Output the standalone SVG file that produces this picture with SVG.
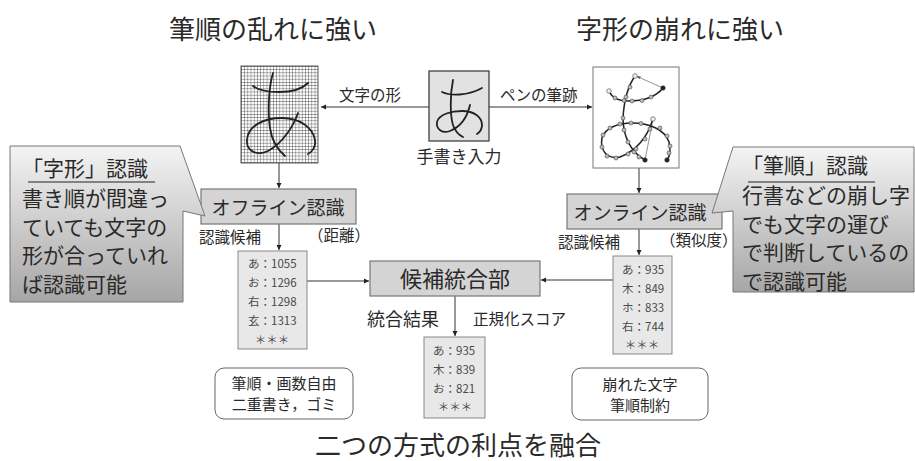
<svg xmlns="http://www.w3.org/2000/svg" width="915" height="461" viewBox="0 0 915 461">
<style>
text{font-family:"Noto Sans CJK JP","Noto Sans",sans-serif;fill:#2a2a2a}
.title{font-size:26px}
.lbl{font-size:15.5px}
.lst{font-size:11.5px;fill:#4a4a4a}
.box{fill:#d4d4d4;stroke:#777;stroke-width:1.2}
.list{fill:#e8e8e8;stroke:#888;stroke-width:1}
.conn{stroke:#333;stroke-width:1;fill:none}
.pen{stroke:#222;stroke-width:1.8;fill:none;stroke-linecap:round;stroke-linejoin:round}
.thin{stroke:#777;stroke-width:0.8;fill:none}
.dot{fill:#bbb;stroke:#444;stroke-width:0.6}
.call{stroke:#777;stroke-width:1;fill:url(#cg)}
.ct{font-size:21px}
.rb{fill:#fff;stroke:#666;stroke-width:1}
.nt{font-size:15px}
</style>
<defs>
<marker id="ah" markerWidth="6" markerHeight="6" refX="5" refY="3" orient="auto" markerUnits="userSpaceOnUse">
<path d="M0,0.5 L5,3 L0,5.5 Z" fill="#222"/>
</marker>
<pattern id="grid" width="3.2" height="3.2" patternUnits="userSpaceOnUse" x="241" y="66">
<path d="M0,0 H3.2 M0,0 V3.2" stroke="#333" stroke-width="0.8" fill="none"/>
</pattern>
<linearGradient id="cg" x1="0" y1="0" x2="0" y2="1">
<stop offset="0" stop-color="#f4f4f4"/>
<stop offset="1" stop-color="#a6a6a6"/>
</linearGradient>
</defs>
<rect width="915" height="461" fill="#fff"/>

<text class="title" x="273" y="39" text-anchor="middle">筆順の乱れに強い</text>
<text class="title" x="680" y="39" text-anchor="middle">字形の崩れに強い</text>
<text class="title" x="458" y="455" text-anchor="middle">二つの方式の利点を融合</text>

<g id="connectors">
<line class="conn" x1="429" y1="107" x2="321" y2="107" marker-end="url(#ah)"/>
<line class="conn" x1="489" y1="107" x2="592" y2="107" marker-end="url(#ah)"/>
<line class="conn" x1="279" y1="163" x2="279" y2="188" marker-end="url(#ah)"/>
<line class="conn" x1="639" y1="168" x2="639" y2="193" marker-end="url(#ah)"/>
<line class="conn" x1="279" y1="224" x2="279" y2="250" marker-end="url(#ah)"/>
<line class="conn" x1="639" y1="229" x2="639" y2="255" marker-end="url(#ah)"/>
<line class="conn" x1="307" y1="281" x2="369" y2="281" marker-end="url(#ah)"/>
<line class="conn" x1="613" y1="280" x2="541" y2="280" marker-end="url(#ah)"/>
<line class="conn" x1="455" y1="296" x2="455" y2="336" marker-end="url(#ah)"/>
<text class="lbl" x="339" y="101">文字の形</text>
<text class="lbl" x="500" y="101">ペンの筆跡</text>
<text class="lbl" x="199" y="243">認識候補</text>
<text class="lbl" x="308" y="241">（距離）</text>
<text class="lbl" x="558" y="248">認識候補</text>
<text class="lbl" x="660" y="246">（類似度）</text>
<text x="367" y="326" style="font-size:18px">統合結果</text>
<text class="lbl" x="473" y="325">正規化スコア</text>
</g>

<g id="offline-image">
<rect x="241" y="66" width="77" height="97" fill="#fff"/>
<rect x="241" y="66" width="77" height="97" fill="url(#grid)" stroke="#333" stroke-width="0.8"/>
<path class="pen" d="M253,86 C262,93 295,96 308,83"/>
<path class="pen" d="M273,73 C268,90 268,115 270,128 C272,142 278,150 285,156"/>
<path class="pen" d="M298,113 C294,125 283,143 268,151 C258,156 246,152 247,140 C248,125 265,118 282,118 C300,118 313,128 315,140 C316,147 312,152 308,154"/>
</g>

<g id="input">
<rect x="429" y="71" width="60" height="70" fill="#e2e2e2" stroke="#333" stroke-width="1.2"/>
<path class="pen" d="M442,92 C450,96 468,96 482,88"/>
<path class="pen" d="M453,80 C450,95 450,115 453,125 C455,131 459,135 463,137"/>
<path class="pen" d="M470,105 C467,118 460,127 450,131 C442,134 436,129 437,122 C439,114 452,111 462,111 C474,111 482,117 482,125 C482,129 480,132 477,134"/>
<text x="459" y="163" text-anchor="middle" style="font-size:17px">手書き入力</text>
</g>

<g id="online-image">
<rect x="593" y="67" width="86" height="101" fill="#fff" stroke="#777" stroke-width="1"/>
<path class="thin" d="M663,88 L636,76"/>
<path d="M636,76 L641,76.5 L639.5,79 Z" fill="#555"/>
<path class="thin" d="M645,160 L653,119"/>
<path class="pen" style="stroke-width:1.5" d="M609,91 C612,98 618,101 628,101 C640,101 655,98 663,88"/>
<path class="pen" style="stroke-width:1.5" d="M635,76 C628,86 624,100 623,118 C623,135 630,152 645,160"/>
<path class="pen" style="stroke-width:1.5" d="M653,119 C648,135 638,150 620,157 C605,160 600,148 602,138 C605,128 618,123 632,123 C650,123 665,130 669,142 C671,150 670,156 667,160"/>
<g class="dot">
<circle cx="635" cy="76" r="2.3" fill="#eee"/>
<circle cx="609" cy="91" r="2.3" fill="#eee"/>
<circle cx="653" cy="119" r="2.3" fill="#eee"/>
<circle cx="615" cy="98" r="2"/><circle cx="624" cy="100.5" r="2"/><circle cx="632" cy="101" r="2"/><circle cx="642" cy="100.5" r="2"/><circle cx="651" cy="97" r="2"/>
<circle cx="630" cy="87" r="2"/><circle cx="626" cy="97" r="2"/><circle cx="623" cy="118" r="2"/><circle cx="624" cy="130" r="2"/><circle cx="628" cy="142" r="2"/><circle cx="634" cy="152" r="2"/><circle cx="639" cy="157" r="2"/>
<circle cx="650" cy="129" r="2"/><circle cx="645" cy="139" r="2"/><circle cx="636" cy="149" r="2"/><circle cx="628" cy="154" r="2"/><circle cx="616" cy="158" r="2"/><circle cx="607" cy="156" r="2"/><circle cx="602" cy="147" r="2"/><circle cx="603" cy="135" r="2"/><circle cx="610" cy="128" r="2"/><circle cx="620" cy="124" r="2"/><circle cx="631" cy="123" r="2"/><circle cx="641" cy="123.5" r="2"/><circle cx="660" cy="128" r="2"/><circle cx="667" cy="136" r="2"/><circle cx="670" cy="146" r="2"/><circle cx="669" cy="153" r="2"/>
<circle cx="663" cy="88" r="2.3" fill="#222"/>
<circle cx="645" cy="160" r="2.3" fill="#222"/>
<circle cx="667" cy="160" r="2.3" fill="#222"/>
</g>
</g>

<g id="offline">
<rect class="box" x="201" y="189" width="155" height="35"/>
<text x="278" y="215" text-anchor="middle" style="font-size:19px">オフライン認識</text>
</g>

<g id="online">
<rect class="box" x="567" y="194" width="155" height="35"/>
<text x="640" y="220" text-anchor="middle" style="font-size:19px">オンライン認識</text>
</g>

<g id="offline-list">
<rect class="list" x="238" y="251" width="69" height="98"/>
<text class="lst" x="248" y="268">あ：1055</text>
<text class="lst" x="248" y="287">お：1296</text>
<text class="lst" x="248" y="306">右：1298</text>
<text class="lst" x="248" y="325">玄：1313</text>
<text class="lst" x="272" y="344" text-anchor="middle">＊＊＊</text>
</g>

<g id="online-list">
<rect class="list" x="613" y="256" width="59" height="98"/>
<text class="lst" x="622" y="274">あ：935</text>
<text class="lst" x="622" y="293">木：849</text>
<text class="lst" x="622" y="312">ホ：833</text>
<text class="lst" x="622" y="331">右：744</text>
<text class="lst" x="642" y="349" text-anchor="middle">＊＊＊</text>
</g>

<g id="merge">
<rect class="box" x="370" y="261" width="170" height="35"/>
<text x="455" y="287" text-anchor="middle" style="font-size:22px">候補統合部</text>
</g>

<g id="result-list">
<rect class="list" x="424" y="337" width="61" height="81"/>
<text class="lst" x="433" y="355">あ：935</text>
<text class="lst" x="433" y="374">木：839</text>
<text class="lst" x="433" y="393">お：821</text>
<text class="lst" x="455" y="411" text-anchor="middle">＊＊＊</text>
</g>

<g id="offline-note">
<rect class="rb" x="215" y="368" width="138" height="51" rx="9"/>
<text class="nt" x="284" y="389" text-anchor="middle">筆順・画数自由</text>
<text class="nt" x="284" y="410" text-anchor="middle">二重書き，ゴミ</text>
</g>

<g id="online-note">
<rect class="rb" x="572" y="368" width="136" height="52" rx="9"/>
<text class="nt" x="640" y="390" text-anchor="middle">崩れた文字</text>
<text class="nt" x="640" y="411" text-anchor="middle">筆順制約</text>
</g>

<g id="callout-left">
<path class="call" d="M10,146 H180 L205,216 L183,211 V302 H10 Z"/>
<text class="ct" x="22" y="176">「字形」認識</text>
<line x1="28" y1="182" x2="155" y2="182" stroke="#222" stroke-width="1"/>
<text class="ct" x="22" y="206">書き順が間違っ</text>
<text class="ct" x="22" y="234.5">ていても文字の</text>
<text class="ct" x="22" y="263">形が合っていれ</text>
<text class="ct" x="22" y="291.5">ば認識可能</text>
</g>

<g id="callout-right">
<path class="call" d="M733,147 H914 V292 H733 V211 L712,213 Z"/>
<text class="ct" x="742" y="173">「筆順」認識</text>
<line x1="748" y1="182" x2="875" y2="182" stroke="#222" stroke-width="1"/>
<text class="ct" x="742" y="203">行書などの崩し字</text>
<text class="ct" x="742" y="231.5">でも文字の運び</text>
<text class="ct" x="742" y="260">で判断しているの</text>
<text class="ct" x="742" y="288.5">で認識可能</text>
</g>
</svg>
